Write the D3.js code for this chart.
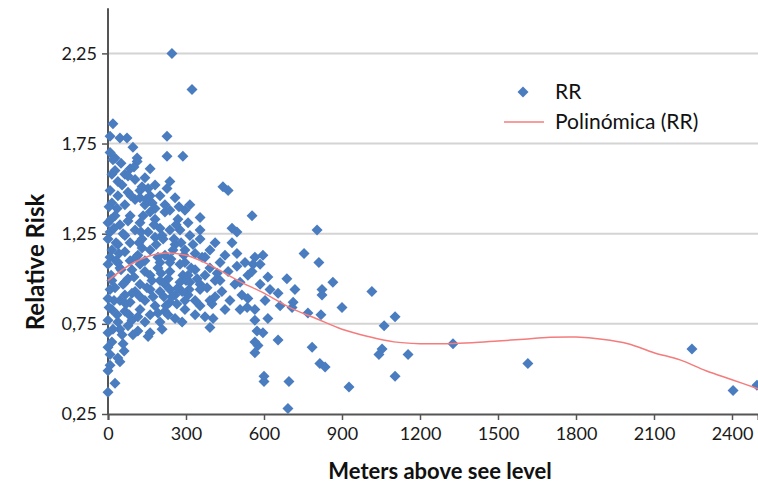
<!DOCTYPE html>
<html>
<head>
<meta charset="utf-8">
<script src="https://cdn.jsdelivr.net/npm/d3@7"></script>
<style>
  body { margin: 0; background: #fff; }
  svg { display: block; font-family: Lato, "Open Sans", sans-serif; }
</style>
</head>
<body>
<svg id="chart"></svg>
<script>
// altitude (m) and relative risk
var rrPoints = [
  [246,2.25],[323,2.05],[19,1.86],[8,1.79],[46,1.78],[73,1.78],[96,1.73],[227,1.79],
  [27,1.67],[112,1.67],[227,1.68],[288,1.68],
  [19,1.66],[112,1.65],[162,1.61],[15,1.58],[142,1.56],[54,1.52],[238,1.54],[227,1.50],
  [77,1.48],[123,1.49],[181,1.52],[38,1.46],[8,1.49],[200,1.46],[258,1.45],[442,1.51],[462,1.49],
  [15,1.42],[65,1.41],[104,1.44],[142,1.41],[162,1.37],[85,1.35],[27,1.35],[0,1.31],[46,1.30],
  [123,1.31],[181,1.33],[219,1.37],[269,1.33],[308,1.31],[354,1.34],[200,1.28],[238,1.27],
  [354,1.27],[104,1.27],[154,1.26],[8,1.26],[65,1.24],[554,1.35],[477,1.28],[496,1.26],[804,1.27],
  [0,1.22],[38,1.19],[85,1.20],[131,1.22],[181,1.23],[212,1.22],[258,1.19],[327,1.19],[412,1.20],
  [477,1.20],[15,1.16],[65,1.15],[115,1.13],[162,1.16],[250,1.16],[335,1.14],[373,1.12],[496,1.14],
  [596,1.13],[565,1.12],[754,1.14],[8,1.12],[142,1.10],[200,1.09],[296,1.09],[431,1.09],
  [0,1.08],[46,1.06],[92,1.05],[142,1.04],[192,1.06],[238,1.04],[288,1.02],[335,1.05],[392,1.06],
  [462,1.04],[496,1.07],[558,1.08],[538,1.02],[615,1.01],[688,1.00],[811,1.09],[865,0.98],
  [15,0.99],[65,0.98],[123,0.97],[169,0.99],[219,0.97],[269,0.95],[315,0.98],[354,0.97],[412,0.99],
  [554,1.04],[585,0.97],[8,0.94],[104,0.93],[200,0.93],[258,0.91],[354,0.94],[438,0.93],[515,0.91],
  [654,0.92],[719,0.94],[823,0.94],[1015,0.93],
  [0,0.89],[46,0.88],[85,0.87],[142,0.88],[181,0.85],[238,0.87],[296,0.88],[412,0.90],[538,0.89],
  [823,0.91],[15,0.83],[65,0.82],[123,0.83],[162,0.80],[219,0.82],[335,0.80],[373,0.79],[404,0.78],
  [535,0.84],[565,0.83],[712,0.87],[708,0.84],[769,0.81],[819,0.80],[900,0.84],[1104,0.79],
  [0,0.77],[38,0.76],[92,0.77],[285,0.76],[392,0.73],[565,0.77],[615,0.78],[0,0.70],[115,0.71],
  [162,0.70],[154,0.68],[573,0.71],[596,0.70],[1062,0.74],
  [15,0.65],[58,0.64],[0,0.62],[8,0.58],[38,0.56],[46,0.54],[8,0.52],[0,0.49],[27,0.42],[0,0.37],
  [565,0.65],[577,0.63],[565,0.59],[654,0.66],[785,0.62],[1054,0.61],[1042,0.58],[1154,0.58],
  [1327,0.64],[815,0.53],[835,0.51],[600,0.46],[600,0.43],[696,0.43],[692,0.28],[927,0.40],
  [1104,0.46],[1615,0.53],[2246,0.61],[2404,0.38],[2496,0.41],
  [27,1.60],[65,1.58],[104,1.55],[85,1.61],[38,1.54],[162,1.46],[123,1.45],[219,1.41],[238,1.38],
  [181,1.39],[296,1.38],[315,1.41],[277,1.27],[315,1.24],[354,1.22],[296,1.16],[219,1.13],[85,1.10],
  [123,1.08],[162,1.02],[200,0.99],[238,1.09],[277,1.08],[373,1.02],[27,0.95],[65,0.91],[123,0.90],
  [162,0.94],[308,0.91],[392,0.88],[469,0.88],[488,0.97],[450,0.83],[258,0.78],[200,0.76],[296,0.83],
  [46,0.72],[77,0.74],[354,0.85],[508,0.98],[623,0.94],[604,0.88],[662,0.85],[392,1.16],[450,1.13],
  [527,1.09],[277,0.98],[335,0.88],[238,0.94],[431,0.99],[585,1.08],[508,0.83],[35,1.39],[77,1.32],
  [208,1.24],[131,1.17],[38,1.09],[77,1.00],[308,1.02],
  [4,1.40],[12,1.33],[23,1.28],[31,1.20],[42,1.14],[50,1.05],[58,0.97],[69,0.86],[81,0.80],[92,0.92],
  [100,1.01],[108,1.12],[119,1.20],[127,1.26],[135,1.35],[146,1.44],[154,1.50],[170,1.42],[177,1.30],
  [185,1.19],[192,1.12],[204,1.03],[215,0.90],[223,0.85],[231,1.00],[242,1.11],[254,1.22],[262,1.30],
  [273,1.40],[281,1.20],[292,1.13],[300,0.99],[312,0.94],[320,1.06],[343,1.00],[362,1.12],[381,0.95],
  [400,0.86],[420,1.03],[12,1.02],[23,0.88],[35,0.80],[54,0.69],[62,0.60],[19,0.72],[4,0.84],
  [31,1.10],[58,1.25],[88,1.46],[100,1.62],[131,1.51],[50,1.64],[8,1.70],[77,1.57],[150,0.95],
  [173,0.90],[192,0.81],[208,0.72],[231,0.80],[246,0.90],[265,0.86],[285,0.93],[142,0.76],[115,0.79],
  [96,0.69]
];

// polynomial trend line (Polinómica (RR))
var trendAltitude = [0,100,200,300,400,500,600,700,800,900,1000,1100,1200,1300,1400,1500,1600,1700,1800,1900,2000,2100,2200,2300,2400,2500];
var trendRR = [0.99,1.09,1.14,1.13,1.07,0.99,0.92,0.84,0.78,0.72,0.68,0.65,0.64,0.64,0.645,0.655,0.665,0.675,0.677,0.665,0.64,0.59,0.55,0.49,0.44,0.39];

var xTicks = [0,300,600,900,1200,1500,1800,2100,2400];
var yTicks = [0.25,0.75,1.25,1.75,2.25];

var width = 758, height = 495;
var svg = d3.select('#chart').attr('width', width).attr('height', height);

var x = d3.scaleLinear().domain([0, 2500]).range([108, 758]);
var y = d3.scaleLinear().domain([0.25, 2.5]).range([414, 8.3]);

// grid
svg.append('g').selectAll('line')
    .data(yTicks.filter(function (d) { return d > 0.25; }))
    .enter().append('line')
    .attr('x1', x(0)).attr('x2', width)
    .attr('y1', function (d) { return y(d); })
    .attr('y2', function (d) { return y(d); })
    .attr('stroke', '#d4d4d4')
    .attr('stroke-width', 2);

// axes
var fmt = function (d) { return d.toFixed(2).replace('.', ','); };
var yAxis = svg.append('g')
    .attr('transform', 'translate(' + x(0) + ',0)')
    .call(d3.axisLeft(y).tickValues(yTicks).tickFormat(fmt).tickSizeOuter(0).tickSize(6).tickPadding(5));
var xAxis = svg.append('g')
    .attr('transform', 'translate(0,' + y(0.25) + ')')
    .call(d3.axisBottom(x).tickValues(xTicks).tickFormat(d3.format('d')).tickSizeOuter(0).tickSize(6).tickPadding(7));

[xAxis, yAxis].forEach(function (a) {
    a.select('.domain').attr('stroke', '#555').attr('stroke-width', 2);
    a.selectAll('.tick line').attr('stroke', '#555').attr('stroke-width', 1.5);
    a.selectAll('.tick text').attr('font-size', 18).attr('fill', '#1a1a1a').attr('font-family', 'Lato, sans-serif');
});
yAxis.select('.domain').attr('d', 'M0,' + y(2.5) + 'V' + y(0.25));

// points
var diamond = 'M0,-5.5L5.5,0L0,5.5L-5.5,0Z';
svg.append('g').selectAll('path')
    .data(rrPoints)
    .enter().append('path')
    .attr('d', diamond)
    .attr('transform', function (d) { return 'translate(' + x(d[0]) + ',' + y(d[1]) + ')'; })
    .attr('fill', '#4a7cc0');

// trend line
var line = d3.line()
    .x(function (d, i) { return x(trendAltitude[i]); })
    .y(function (d) { return y(d); })
    .curve(d3.curveCatmullRom);
svg.append('path')
    .datum(trendRR)
    .attr('d', line)
    .attr('fill', 'none')
    .attr('stroke', '#f47c7c')
    .attr('stroke-width', 1.5);

// axis titles
svg.append('text')
    .attr('transform', 'translate(44,262) rotate(-90)')
    .attr('text-anchor', 'middle')
    .attr('font-size', 24)
    .attr('font-weight', 'bold')
    .attr('fill', '#111')
    .text('Relative Risk');
svg.append('text')
    .attr('x', 440).attr('y', 479)
    .attr('text-anchor', 'middle')
    .attr('font-size', 22)
    .attr('font-weight', 'bold')
    .attr('fill', '#111')
    .text('Meters above see level');

// legend
var legend = svg.append('g');
legend.append('path').attr('d', diamond).attr('transform', 'translate(523,92)').attr('fill', '#4a7cc0');
legend.append('line').attr('x1', 504).attr('x2', 544).attr('y1', 122).attr('y2', 122)
    .attr('stroke', '#f47c7c').attr('stroke-width', 1.5);
legend.append('text').attr('x', 555).attr('y', 99).attr('font-size', 21).attr('fill', '#111').text('RR');
legend.append('text').attr('x', 555).attr('y', 129).attr('font-size', 21).attr('fill', '#111').text('Polinómica (RR)');
</script>
</body>
</html>
